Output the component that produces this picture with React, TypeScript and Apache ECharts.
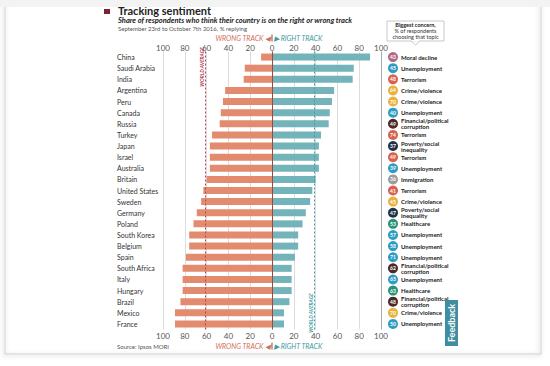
import React, { useEffect, useRef } from 'react';
import * as echarts from 'echarts';

const countries = ['China', 'Saudi Arabia', 'India', 'Argentina', 'Peru', 'Canada', 'Russia', 'Turkey', 'Japan', 'Israel', 'Australia', 'Britain', 'United States', 'Sweden', 'Germany', 'Poland', 'South Korea', 'Belgium', 'Spain', 'South Africa', 'Italy', 'Hungary', 'Brazil', 'Mexico', 'France'];
const wrongTrack = [10, 25, 26, 43, 45, 47, 48, 55, 57, 57, 57, 60, 63, 65, 69, 72, 76, 76, 79, 82, 82, 82, 84, 89, 89];
const rightTrack = [90, 75, 74, 57, 55, 53, 52, 45, 43, 43, 43, 40, 37, 35, 31, 28, 24, 24, 21, 18, 18, 18, 16, 11, 11];
const concernTopics = ['Moral decline', 'Unemployment', 'Terrorism', 'Crime/violence', 'Crime/violence', 'Unemployment', 'Financial/political\ncorruption', 'Terrorism', 'Poverty/social\ninequality', 'Terrorism', 'Unemployment', 'Immigration', 'Terrorism', 'Crime/violence', 'Poverty/social\ninequality', 'Healthcare', 'Unemployment', 'Unemployment', 'Unemployment', 'Financial/political\ncorruption', 'Unemployment', 'Healthcare', 'Financial/political\ncorruption', 'Crime/violence', 'Unemployment'];
const concernPct = [43, 45, 48, 64, 70, 40, 49, 74, 37, 49, 39, 36, 41, 45, 47, 53, 57, 58, 71, 62, 65, 63, 48, 70, 50];
const worldAverageWrong = 61;
const worldAverageRight = 39;

const topicColors: Record<string, string> = {
  'Moral decline': '#b06c86',
  'Unemployment': '#2f9cc3',
  'Terrorism': '#d8624c',
  'Crime/violence': '#e8b23c',
  'Financial/political\ncorruption': '#4a2a22',
  'Poverty/social\ninequality': '#1e3347',
  'Immigration': '#9c9c9c',
  'Healthcare': '#2b927a',
};

const FONT = 'Lato';
const WRONG = '#e38b6f';
const RIGHT = '#72b4b9';

export default function App() {
  const ref = useRef<HTMLDivElement>(null);
  useEffect(() => {
    document.body.style.margin = '0';
    const chart = echarts.init(ref.current!, null, { renderer: 'svg' });
    const xAxisBase = {
      type: 'value',
      min: -100,
      max: 100,
      interval: 20,
      axisLine: { show: false },
      axisTick: { show: false },
      axisLabel: {
        formatter: (v: number) => String(Math.abs(v)),
        fontSize: 8,
        color: '#555',
        fontFamily: FONT,
        margin: 0,
      },
    };
    chart.setOption({
      animation: false,
      backgroundColor: '#fff',
      grid: { left: 163, right: 169, top: 51.5, bottom: 36.5 },
      xAxis: [
        { ...xAxisBase, position: 'top', splitLine: { show: true, lineStyle: { color: '#dcdcdc', width: 1 } } },
        { ...xAxisBase, position: 'bottom', splitLine: { show: false }, axisLabel: { ...xAxisBase.axisLabel, margin: 2 } },
      ],
      yAxis: {
        type: 'category',
        data: countries,
        inverse: true,
        axisLine: { show: false },
        axisTick: { show: false },
        axisLabel: { align: 'left', margin: 46, fontSize: 7, color: '#333', fontFamily: FONT },
      },
      series: [
        {
          type: 'bar',
          name: 'Wrong track',
          data: wrongTrack.map((v) => -v),
          barWidth: 7,
          barGap: '-100%',
          itemStyle: { color: WRONG },
          markLine: {
            silent: true,
            symbol: 'none',
            label: { show: false },
            data: [
              { xAxis: -worldAverageWrong, lineStyle: { color: '#b3475a', type: [2, 2], width: 1 } },
              { xAxis: 100, lineStyle: { color: '#aaa', type: 'solid', width: 1 } },
            ],
          },
          z: 2,
        },
        {
          type: 'bar',
          name: 'Right track',
          data: rightTrack,
          barWidth: 7,
          itemStyle: { color: RIGHT },
          markLine: {
            silent: true,
            symbol: 'none',
            label: { show: false },
            data: [
              { xAxis: worldAverageRight, lineStyle: { color: '#4a9aa2', type: [2, 2], width: 1 } },
              { xAxis: 0, lineStyle: { color: '#9a4a3e', type: 'solid', width: 1 } },
            ],
          },
          z: 2,
        },
      ],
    });

    const px = (v: number, i: number) => chart.convertToPixel({ xAxisIndex: 0, yAxisIndex: 0 }, [v, i]) as number[];
    const zeroX = px(0, 0)[0];
    const maxX = px(100, 0)[0];
    const wAvgX = px(-worldAverageWrong, 0)[0];
    const rAvgX = px(worldAverageRight, 0)[0];

    const g: any[] = [];
    // card frame
    g.push({ type: 'rect', shape: { x: 5, y: -10, width: 536, height: 364 }, style: { fill: 'none', stroke: '#d0d0d0', lineWidth: 1, shadowBlur: 4, shadowColor: 'rgba(0,0,0,0.25)', shadowOffsetX: -1, shadowOffsetY: 1 }, z: 0 });
    // title
    g.push({ type: 'rect', shape: { x: 104, y: 9, width: 6, height: 5 }, style: { fill: '#7b2235' } });
    g.push({ type: 'text', x: 118, y: 5, style: { text: 'Tracking sentiment', font: `bold 11px ${FONT}`, fill: '#222', verticalAlign: 'top' } });
    g.push({ type: 'rect', shape: { x: 0, y: 0, width: 550, height: 7 }, style: { fill: '#f3f3f3' }, z: 10 });
    g.push({ type: 'text', x: 118, y: 20, style: { text: 'Share of respondents who think their country is on the right or wrong track', font: `italic bold 7.5px ${FONT}`, fill: '#222', verticalAlign: 'middle' } });
    g.push({ type: 'text', x: 118, y: 28.5, style: { text: 'September 23rd to October 7th 2016, % replying', font: `6px ${FONT}`, fill: '#555', verticalAlign: 'middle' } });
    // track labels top & bottom
    [38, 346].forEach((y) => {
      g.push({ type: 'text', x: zeroX - 2, y, style: { text: 'WRONG TRACK ◀', font: `italic 7px ${FONT}`, fill: '#d16f58', align: 'right', verticalAlign: 'middle' } });
      g.push({ type: 'line', shape: { x1: zeroX, y1: y - 3.5, x2: zeroX, y2: y + 3.5 }, style: { stroke: '#9a4a3e', lineWidth: 1 } });
      g.push({ type: 'text', x: zeroX + 2, y, style: { text: '▶ RIGHT TRACK', font: `italic 7px ${FONT}`, fill: '#3e9aa3', align: 'left', verticalAlign: 'middle' } });
    });
    // world average labels
    g.push({ type: 'text', x: wAvgX - 4, y: 67, rotation: Math.PI / 2, style: { text: 'WORLD AVERAGE', font: `italic bold 5px ${FONT}`, fill: '#a83a50', align: 'center', verticalAlign: 'middle' } });
    g.push({ type: 'text', x: rAvgX - 4, y: 313, rotation: Math.PI / 2, style: { text: 'WORLD AVERAGE', font: `italic bold 5px ${FONT}`, fill: '#3e9aa3', align: 'center', verticalAlign: 'middle' } });
    // legend box
    const bx = maxX + 6;
    g.push({ type: 'rect', shape: { x: bx, y: 21, width: 57, height: 20 }, style: { fill: '#fff', stroke: '#bbb', lineWidth: 0.8 } });
    g.push({ type: 'polygon', shape: { points: [[bx + 24, 41], [bx + 33, 41], [bx + 28.5, 45]] }, style: { fill: '#fff', stroke: '#bbb', lineWidth: 0.8 } });
    g.push({ type: 'rect', shape: { x: bx + 24.5, y: 40, width: 8, height: 1.5 }, style: { fill: '#fff' } });
    g.push({ type: 'text', x: bx + 28.5, y: 31, style: { text: '{b|Biggest concern,}\n% of respondents\nchoosing that topic', font: `5.5px ${FONT}`, fill: '#333', align: 'center', verticalAlign: 'middle', lineHeight: 6, rich: { b: { fontWeight: 'bold', fontSize: 5.5, fontFamily: FONT, fill: '#222', lineHeight: 6 } } } });
    // concerns per row
    countries.forEach((_, i) => {
      const y = px(0, i)[1];
      const topic = concernTopics[i];
      g.push({ type: 'circle', shape: { cx: maxX + 12, cy: y, r: 5 }, style: { fill: topicColors[topic] } });
      g.push({ type: 'text', x: maxX + 12, y, style: { text: String(concernPct[i]), font: `bold 5px ${FONT}`, fill: '#fff', align: 'center', verticalAlign: 'middle' } });
      g.push({ type: 'text', x: maxX + 20, y, style: { text: topic, font: `bold 6px ${FONT}`, fill: '#222', align: 'left', verticalAlign: 'middle', lineHeight: 6 } });
    });
    // source
    g.push({ type: 'text', x: 117, y: 346, style: { text: 'Source: Ipsos MORI', font: `6px ${FONT}`, fill: '#555', verticalAlign: 'middle' } });
    // feedback tab
    g.push({ type: 'rect', shape: { x: 445, y: 300, width: 13, height: 46 }, style: { fill: '#3f8ea0' } });
    g.push({ type: 'text', x: 451.5, y: 323, rotation: Math.PI / 2, style: { text: 'Feedback', font: `bold 9px ${FONT}`, fill: '#fff', align: 'center', verticalAlign: 'middle' } });

    chart.setOption({ graphic: g });
    return () => chart.dispose();
  }, []);
  return <div ref={ref} style={{ width: 550, height: 366 }} />;
}
